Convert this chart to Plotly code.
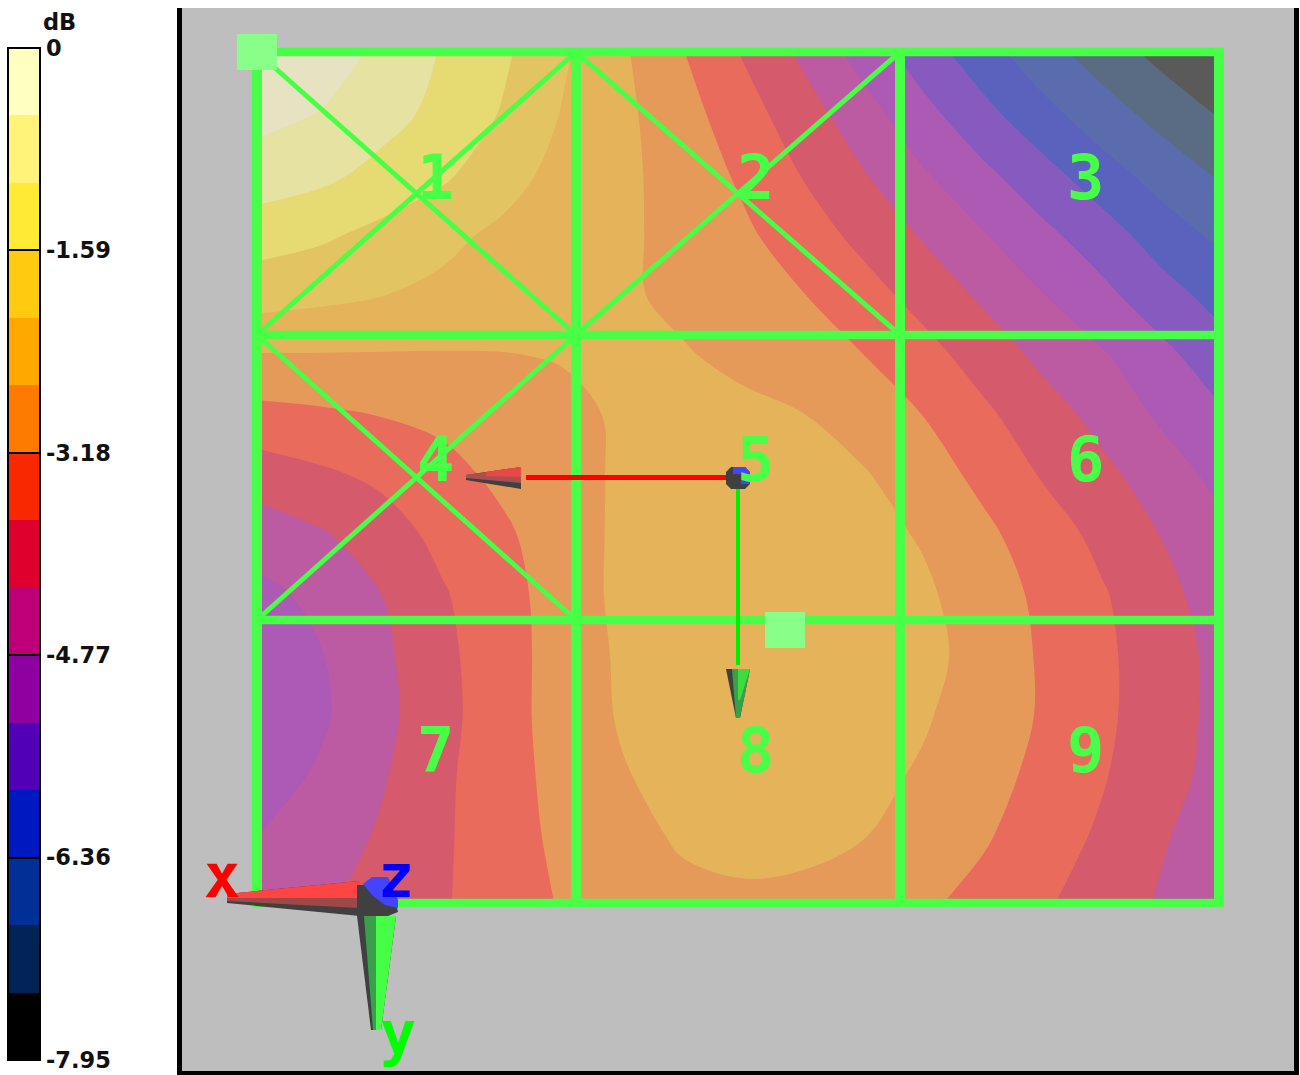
import plotly.graph_objects as go

# level map, in dB
col_x = [262, 322, 382, 442, 502, 562, 622, 682, 742, 802, 862, 922, 982, 1042, 1102, 1162, 1215]
row_y = [55, 115, 175, 235, 295, 355, 415, 475, 535, 595, 655, 715, 775, 835, 900]
# values are in colour-band steps, one step is 0.53 dB
band_steps = [
    [0.10, 0.58, 1.20, 2.08, 2.82, 3.85, 4.85, 5.93, 7.04, 8.14, 9.35, 10.47, 11.54, 12.57, 13.44, 14.27, 15.00],
    [0.75, 1.05, 1.64, 2.29, 3.07, 4.05, 4.77, 5.61, 6.56, 7.54, 8.55, 9.66, 10.66, 11.66, 12.54, 13.33, 14.00],
    [1.45, 1.77, 2.31, 2.82, 3.63, 4.30, 4.78, 5.40, 6.15, 7.03, 7.91, 8.87, 9.75, 10.62, 11.57, 12.40, 13.05],
    [2.60, 2.85, 3.27, 3.77, 4.18, 4.50, 4.84, 5.27, 5.81, 6.50, 7.26, 8.08, 8.92, 9.75, 10.53, 11.50, 12.15],
    [3.55, 3.75, 3.98, 4.20, 4.43, 4.65, 4.88, 5.18, 5.57, 5.96, 6.60, 7.33, 8.16, 8.96, 9.75, 10.60, 11.30],
    [5.05, 5.05, 5.06, 5.06, 5.03, 4.95, 4.85, 4.93, 5.20, 5.55, 5.98, 6.65, 7.40, 8.23, 8.90, 9.74, 10.51],
    [6.30, 6.15, 5.97, 5.78, 5.40, 5.20, 4.90, 4.75, 4.80, 4.97, 5.48, 6.00, 6.80, 7.54, 8.32, 9.17, 9.80],
    [7.50, 7.16, 6.80, 6.30, 5.80, 5.38, 4.85, 4.65, 4.60, 4.70, 4.90, 5.53, 6.23, 7.07, 7.75, 8.50, 9.22],
    [8.52, 8.10, 7.45, 6.74, 6.17, 5.49, 4.80, 4.60, 4.50, 4.55, 4.65, 5.08, 5.77, 6.48, 7.27, 8.03, 8.68],
    [9.25, 8.73, 8.00, 7.10, 6.35, 5.58, 4.75, 4.50, 4.42, 4.42, 4.47, 4.82, 5.49, 6.20, 6.90, 7.70, 8.40],
    [9.60, 9.03, 8.20, 7.25, 6.40, 5.60, 4.85, 4.45, 4.35, 4.35, 4.40, 4.65, 5.42, 6.10, 6.80, 7.54, 8.20],
    [9.70, 9.13, 8.28, 7.32, 6.39, 5.60, 4.90, 4.50, 4.35, 4.35, 4.45, 4.88, 5.48, 6.08, 6.80, 7.54, 8.20],
    [9.40, 8.87, 8.10, 7.20, 6.38, 5.70, 5.07, 4.65, 4.45, 4.45, 4.70, 5.11, 5.65, 6.23, 6.92, 7.65, 8.25],
    [8.97, 8.55, 7.87, 7.15, 6.43, 5.78, 5.33, 4.87, 4.70, 4.70, 4.95, 5.40, 5.86, 6.55, 7.13, 7.90, 8.45],
    [8.60, 8.15, 7.65, 7.10, 6.50, 5.92, 5.55, 5.25, 5.15, 5.25, 5.50, 5.80, 6.30, 6.85, 7.45, 8.10, 8.70],
]
z_db = [[-0.53 * v for v in row] for row in band_steps]

tick_vals = [0, -1.59, -3.18, -4.77, -6.36, -7.95]
tick_text = ["0", "-1.59", "-3.18", "-4.77", "-6.36", "-7.95"]
cell_labels = ["1", "2", "3", "4", "5", "6", "7", "8", "9"]

# colours from -7.95 up to 0: bar is opaque, map is the same thing washed over the grey
bar_colors = ["#000000", "#002456", "#003096", "#0018C0", "#5200B8", "#8E00A0", "#BE0078", "#E0002D",
              "#F92800", "#FF7A00", "#FFA800", "#FFCB10", "#FFEB33", "#FFF37A", "#FFFFC0"]
map_colors = ["#5A5A5A", "#5A6C84", "#5A6CAE", "#5A62BE", "#865ABE", "#AC5AB4", "#BC5AA2", "#D55A6C",
              "#E96B5B", "#E59A5A", "#E5B45A", "#E3C462", "#E6DA72", "#E6E2A2", "#E6E2C2"]

# hard steps for the colour bar
bar_scale = []
for i, c in enumerate(bar_colors):
    bar_scale.append([i / 15, c])
    bar_scale.append([(i + 1) / 15, c])

# plotly samples filled contours at (i+1)/16 with 16 levels
map_scale = [[0, map_colors[0]]]
for i, c in enumerate(map_colors):
    map_scale.append([(i + 1) / 16, c])
map_scale.append([1, map_colors[-1]])

fig = go.Figure()
# this heatmap only supplies the opaque colour bar, the contour map covers it
fig.add_trace(go.Heatmap(x=col_x[1:-1], y=row_y[1:-1], z=[r[1:-1] for r in z_db[1:-1]], zmin=-7.95, zmax=0,
                         colorscale=bar_scale, hoverinfo="skip",
                         colorbar=dict(x=8 / 1300, xanchor="left", xpad=0,
                                       y=1 - 48 / 1075, yanchor="top", ypad=0,
                                       len=1012 / 1075, thickness=32, outlinecolor="#000000", outlinewidth=2,
                                       ticks="inside", ticklen=32, tickcolor="#000000", tickwidth=2,
                                       tickmode="array", tickvals=tick_vals, ticktext=tick_text,
                                       tickfont=dict(family="DejaVu Sans", size=22.5, color="#111111", weight=700))))
fig.add_trace(go.Contour(x=col_x, y=row_y, z=z_db, autocontour=False,
                         contours=dict(start=-7.95, end=0, size=0.53, coloring="fill"),
                         colorscale=map_scale, line_width=0, showscale=False))

GREEN = "#46FF46"
shapes = []


def rect(x0, y0, x1, y1, color, layer="above"):
    shapes.append(dict(type="rect", xref="x", yref="y", x0=x0, y0=y0, x1=x1, y1=y1,
                       fillcolor=color, line_width=0, layer=layer))


def seg(x0, y0, x1, y1, color, width):
    shapes.append(dict(type="line", xref="x", yref="y", x0=x0, y0=y0, x1=x1, y1=y1,
                       line=dict(color=color, width=width), layer="above"))


def poly(pts, color):
    path = "M " + " L ".join(f"{x} {y}" for x, y in pts) + " Z"
    shapes.append(dict(type="path", xref="x", yref="y", path=path, fillcolor=color, line_width=0, layer="above"))


# frame and grey panel
rect(177, 8, 1299, 1075, "#000000", "below")
rect(182, 8, 1294, 1071, "#BEBEBE", "below")

# cell diagonals
seg(257, 52, 576, 335, GREEN, 5)
seg(257, 335, 576, 52, GREEN, 5)
seg(576, 52, 900, 335, GREEN, 5)
seg(576, 335, 900, 52, GREEN, 5)
seg(257, 335, 576, 620, GREEN, 5)
seg(257, 620, 576, 335, GREEN, 5)

# cell grid
for gx in [257, 576, 900, 1219]:
    seg(gx, 48, gx, 907, GREEN, 10)
for gy in [52, 335, 620, 903]:
    seg(253, gy, 1224, gy, GREEN, 8.5)

# corner handles
rect(237, 34, 277, 70, "#88FF88")
rect(765, 612, 805, 648, "#88FF88")

# small triad in the middle
seg(526, 477.5, 727, 477.5, "#FF0000", 5)
seg(738, 488, 738, 665, "#00EE00", 4)
poly([(466, 475), (521, 467), (521, 489), (466, 480)], "#404040")
poly([(466, 475), (521, 467), (521, 483), (466, 478)], "#A85050")
poly([(486, 472), (521, 467), (521, 477), (486, 476)], "#E84848")
poly([(726, 669), (750, 669), (740, 718), (736, 718)], "#404040")
poly([(732, 669), (750, 669), (740, 718), (736, 718)], "#38A048")
poly([(738, 669), (750, 669), (740, 700), (738, 700)], "#3CDC3C")
poly([(731, 467), (745, 467), (750, 472), (750, 484), (745, 489), (731, 489), (726, 484), (726, 472)], "#404040")
poly([(733, 467), (745, 467), (750, 472), (750, 484), (741, 484), (741, 474), (733, 474)], "#4444FF")

# big triad bottom left
poly([(227, 894), (360, 881), (360, 916), (227, 903)], "#404040")
poly([(227, 894), (360, 881), (360, 908), (227, 901)], "#A04848")
poly([(227, 894), (360, 881), (360, 898), (227, 898)], "#FF4444")
poly([(357, 916), (396, 916), (381, 1030), (371, 1030)], "#404040")
poly([(364, 916), (396, 916), (381, 1030), (373, 1030)], "#38A048")
poly([(376, 916), (396, 916), (381, 1030), (376, 1030)], "#44FF44")
poly([(357, 885), (392, 885), (398, 912), (388, 916), (357, 916)], "#404040")
poly([(363, 884), (372, 877), (388, 877), (398, 900), (398, 908), (385, 905), (372, 895)], "#4444FF")

annotations = []
cell_x = [435, 755, 1085]
cell_y = [177, 459, 750]
for i, label in enumerate(cell_labels):
    annotations.append(dict(x=cell_x[i % 3], y=cell_y[i // 3], xref="x", yref="y", text=label, showarrow=False,
                            font=dict(family="DejaVu Sans Mono", size=62, color=GREEN, weight=700)))
for label, ax, ay, col in [("x", 222, 876, "#FF0000"), ("z", 396, 876, "#0000FF"), ("y", 398, 1033, "#00FF00")]:
    annotations.append(dict(x=ax, y=ay, xref="x", yref="y", text=label, showarrow=False,
                            font=dict(family="DejaVu Sans Mono", size=60, color=col, weight=700)))
annotations.append(dict(x=59, y=22, xref="x", yref="y", text="dB", showarrow=False,
                        font=dict(family="DejaVu Sans", size=22.5, color="#111111", weight=700)))

fig.update_layout(width=1300, height=1075, margin=dict(l=0, r=0, t=0, b=0), autosize=False,
                  paper_bgcolor="#FFFFFF", plot_bgcolor="#FFFFFF", showlegend=False,
                  xaxis=dict(range=[0, 1300], visible=False, fixedrange=True),
                  yaxis=dict(range=[1075, 0], visible=False, fixedrange=True),
                  shapes=shapes, annotations=annotations)

fig.write_html("out.html", post_script="document.body.style.margin='0';", config=dict(displayModeBar=False))
